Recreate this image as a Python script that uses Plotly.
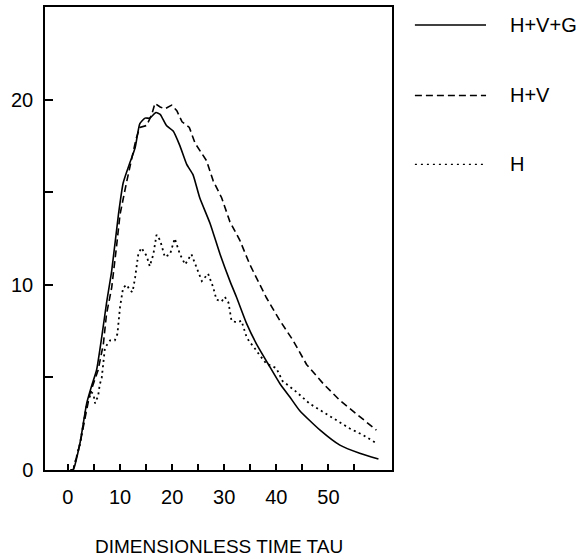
import plotly.graph_objects as go

# ---- data ----
t_hvg = [0.5, 1.0, 2.3, 3.6, 4.5, 5.5, 6.5, 7.4, 8.4, 9.7, 10.6, 11.9, 12.9, 13.8, 14.8, 15.7,
         16.9, 17.7, 18.9, 20.2, 21.5, 22.8, 24.0, 25.3, 27.3, 29.2, 31.1, 32.4, 34.3, 36.2,
         38.8, 40.7, 42.6, 44.5, 48.4, 52.2, 56.0, 59.6]
v_hvg = [0, 0, 1.43, 3.6, 4.5, 5.4, 7.2, 9.0, 10.75, 13.8, 15.5, 16.6, 17.4, 18.7, 19.0, 19.0,
         19.3, 19.2, 18.6, 18.3, 17.5, 16.5, 15.95, 14.7, 13.3, 11.65, 10.2, 9.3, 7.9, 6.8,
         5.55, 4.66, 3.94, 3.2, 2.15, 1.34, 0.9, 0.59]

t_hv = [0.5, 1.0, 2.3, 4.2, 5.8, 6.8, 7.4, 8.4, 9.3, 10.0, 11.3, 12.2, 13.1, 13.8, 15.1, 16.1,
        16.7, 17.7, 18.6, 19.9, 20.9, 21.9, 23.3, 24.4, 25.6, 26.6, 27.9, 29.5, 31.1, 33.0,
        34.9, 36.2, 38.1, 40.7, 43.2, 45.8, 49.0, 52.2, 56.0, 59.2]
v_hv = [0, 0, 1.4, 4.1, 5.4, 6.8, 8.4, 9.85, 12.0, 13.8, 15.6, 16.7, 17.9, 18.5, 18.6, 19.2,
        19.8, 19.6, 19.5, 19.7, 19.4, 18.8, 18.5, 17.65, 17.1, 16.7, 15.6, 14.7, 13.4, 12.4,
        11.1, 10.4, 9.3, 8.06, 7.0, 5.7, 4.66, 3.76, 2.87, 2.15]

t_h = [0.5, 1.0, 2.3, 3.6, 4.5, 4.9, 5.2, 5.8, 6.1, 6.5, 7.1, 8.1, 9.0, 9.5, 10.0, 10.6, 11.3,
       11.9, 12.4, 12.9, 13.5, 14.1, 15.1, 15.7, 16.4, 17.0, 17.7, 18.6, 19.6, 20.5, 21.5,
       22.5, 23.7, 24.7, 25.7, 26.9, 27.9, 28.5, 29.5, 30.1, 30.8, 31.4, 32.4, 33.3, 34.3,
       34.9, 35.6, 36.8, 38.1, 40.0, 41.2, 43.5, 46.4, 49.0, 51.6, 54.1, 56.7, 58.9]
v_h = [0, 0, 1.4, 3.5, 4.2, 4.1, 3.6, 4.0, 4.6, 5.0, 6.6, 7.0, 7.0, 7.35, 8.8, 9.85, 10.0,
       9.7, 9.6, 10.4, 11.65, 12.0, 11.56, 11.0, 11.65, 12.7, 12.4, 11.5, 11.65, 12.5, 11.65,
       11.1, 11.65, 10.9, 10.2, 10.6, 9.85, 9.2, 9.1, 9.35, 9.05, 8.06, 7.97, 8.06, 7.17,
       6.9, 6.67, 6.2, 5.74, 5.5, 4.8, 4.3, 3.58, 3.13, 2.69, 2.24, 1.88, 1.5]

x_tickvals = [0, 5, 10, 15, 20, 25, 30, 35, 40, 45, 50, 55]
x_ticktext = ["0", "", "10", "", "20", "", "30", "", "40", "", "50", ""]
y_tickvals = [0, 5, 10, 15, 20]
y_ticktext = ["0", "", "10", "", "20"]

series_names = ["H+V+G", "H+V", "H"]
x_title = "DIMENSIONLESS TIME TAU"

FONT = "Liberation Sans, Arial, sans-serif"

fig = go.Figure()
fig.add_trace(go.Scatter(x=t_hvg, y=v_hvg, mode="lines", name=series_names[0],
                         line=dict(color="black", width=1.6, shape="spline", smoothing=0.5)))
fig.add_trace(go.Scatter(x=t_hv, y=v_hv, mode="lines", name=series_names[1],
                         line=dict(color="black", width=1.6, dash="7px,4px")))
fig.add_trace(go.Scatter(x=t_h, y=v_h, mode="lines", name=series_names[2],
                         line=dict(color="black", width=1.8, dash="2px,3.5px")))

# manual legend (outside plot area, paper coords)
leg_rows = [0.961, 0.809, 0.660]
leg_dash = ["solid", "7px,4px", "2px,4px"]
for name, yy, dsh in zip(series_names, leg_rows, leg_dash):
    fig.add_shape(type="line", xref="paper", yref="paper", x0=1.066, x1=1.271, y0=yy, y1=yy,
                  line=dict(color="black", width=1.4, dash=dsh))
    fig.add_annotation(xref="paper", yref="paper", x=1.334, y=yy, text=name, showarrow=False,
                       xanchor="left", yanchor="middle", font=dict(family=FONT, size=20, color="black"))

fig.add_annotation(xref="paper", yref="paper", x=0.5, y=-0.166, text=x_title, showarrow=False,
                   xanchor="center", yanchor="middle", font=dict(family=FONT, size=19, color="black"))

fig.update_layout(
    width=582, height=560,
    margin=dict(l=45, r=190, t=5, b=90),
    paper_bgcolor="white", plot_bgcolor="white",
    showlegend=False,
    font=dict(family=FONT, size=20, color="black"),
    xaxis=dict(range=[-4.4, 62.2], tickmode="array", tickvals=x_tickvals, ticktext=x_ticktext,
               ticks="inside", ticklen=6, tickwidth=1.5, tickcolor="black",
               showline=True, linecolor="black", linewidth=1.5, mirror=True,
               showgrid=False, zeroline=False, ticklabelstandoff=8),
    yaxis=dict(range=[0, 25], tickmode="array", tickvals=y_tickvals, ticktext=y_ticktext,
               ticks="inside", ticklen=8, tickwidth=1.5, tickcolor="black",
               showline=True, linecolor="black", linewidth=1.5, mirror=True,
               showgrid=False, zeroline=False, ticklabelstandoff=6),
)

fig.write_html("out.html", config={"displayModeBar": False},
               post_script="document.body.style.margin='0';")
